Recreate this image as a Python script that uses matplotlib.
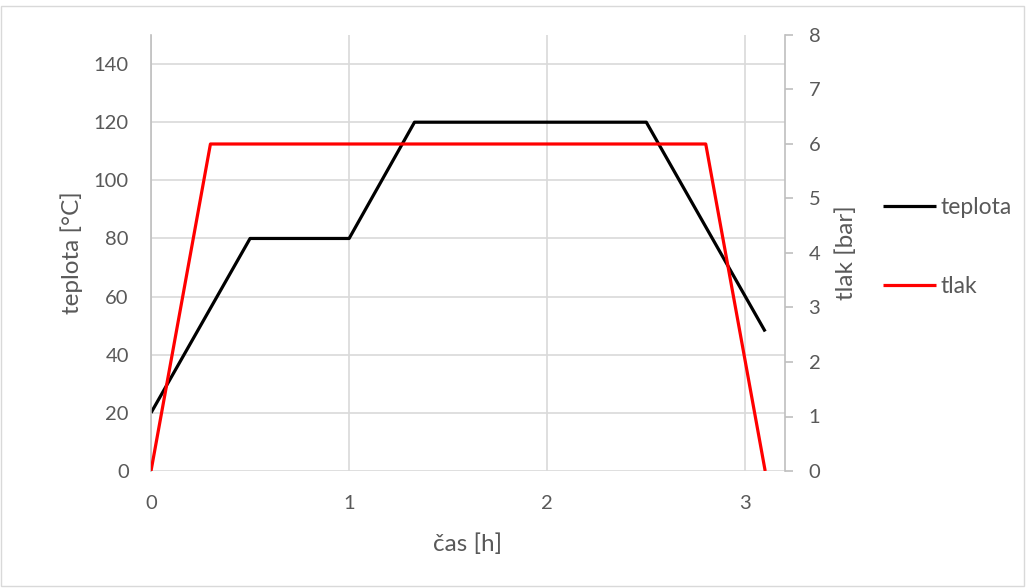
import matplotlib.pyplot as plt
from matplotlib.patches import Rectangle

# teplota (left axis)
cas_t = [0, 0.5, 1, 1.33, 2.5, 3.1]
teplota = [20, 80, 80, 120, 120, 48]
# tlak (right axis)
cas_p = [0, 0.3, 2.8, 3.1]
tlak = [0, 6, 6, 0]

grey = '#595959'
grid = '#d9d9d9'
spine = '#bfbfbf'
plt.rcParams['font.family'] = ['Lato', 'DejaVu Sans']

fig = plt.figure(figsize=(10.27, 5.88), dpi=100)
ax = fig.add_axes([151 / 1027, 1 - 471 / 588, (785 - 151) / 1027, (471 - 35) / 588])
ax2 = ax.twinx()

ax.plot(cas_t, teplota, color='black', lw=2.3, label='teplota', solid_capstyle='butt')
ax2.plot(cas_p, tlak, color='#ff0000', lw=2.3, label='tlak', solid_capstyle='butt')

ax.set_xlim(0, 3.2)
ax.set_ylim(0, 150)
ax2.set_ylim(0, 8)
ax.set_xticks([0, 1, 2, 3])
ax.set_yticks(range(0, 141, 20))
ax2.set_yticks(range(0, 9))

ax.grid(True, color=grid, lw=1.2)
ax.set_axisbelow(True)
for a in (ax, ax2):
    for s in a.spines.values():
        s.set_visible(False)
ax.spines['left'].set_visible(True)
ax.spines['left'].set_color(spine)
ax.spines['left'].set_linewidth(1.2)
ax2.spines['right'].set_visible(True)
ax2.spines['right'].set_color(spine)
ax2.spines['right'].set_linewidth(1.2)

ax.tick_params(axis='y', length=0, labelsize=14.5, labelcolor=grey, pad=16)
ax.tick_params(axis='x', length=0, labelsize=14.5, labelcolor=grey, pad=17)
ax2.tick_params(axis='y', length=6, color=spine, width=1.2, labelsize=14.5,
                labelcolor=grey, pad=11)

ax.set_xlabel('čas [h]', fontsize=17.5, color=grey, labelpad=16)
ax.set_ylabel('teplota [°C]', fontsize=17.5, color=grey, labelpad=8)
ax2.set_ylabel('tlak [bar]', fontsize=17.5, color=grey, labelpad=11)

h1, l1 = ax.get_legend_handles_labels()
h2, l2 = ax2.get_legend_handles_labels()
fig.legend(h1 + h2, l1 + l2, loc='center left', bbox_to_anchor=(862 / 1027, 1 - 247 / 588),
           frameon=False, fontsize=16.5, labelcolor=grey, handlelength=2.35,
           handletextpad=0.17, labelspacing=2.55)

fig.patches.append(Rectangle((0.001, 0.003), 0.996, 0.986, transform=fig.transFigure,
                             fill=False, edgecolor=grid, lw=1))

plt.savefig('out.png', dpi=100)
